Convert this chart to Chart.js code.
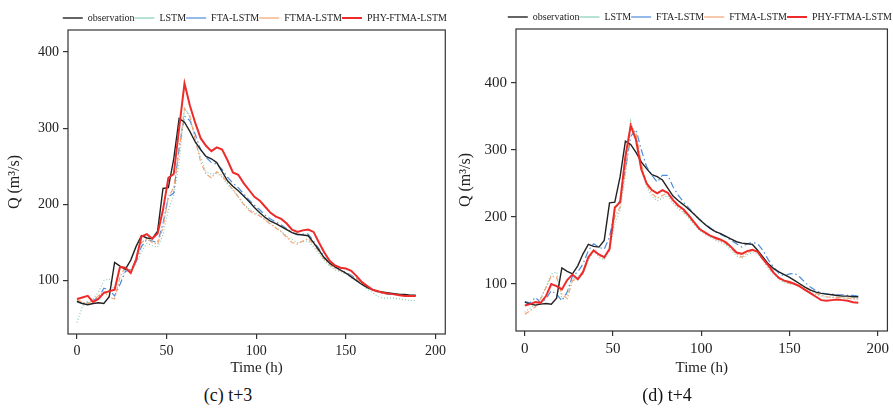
<!DOCTYPE html>
<html>
<head>
<meta charset="utf-8">
<script src="https://cdn.jsdelivr.net/npm/chart.js@4.4.0/dist/chart.umd.min.js"></script>
<style>
  body { margin: 0; width: 893px; height: 410px; background: #fff; position: relative; overflow: hidden; font-family: "Liberation Serif", serif; }
  .panel { position: absolute; top: 0; height: 380px; }
  #left { left: 0; width: 450px; }
  #right { left: 447px; width: 446px; }
  .caption { position: absolute; top: 385px; width: 200px; text-align: center; font-size: 18px; color: #111; }
</style>
</head>
<body>
<div class="panel" id="left"><canvas id="chartLeft"></canvas></div>
<div class="panel" id="right"><canvas id="chartRight"></canvas></div>
<div class="caption" style="left:128px">(c) t+3</div>
<div class="caption" style="left:567px">(d) t+4</div>
<script>
// time axis (h), shared by every series
const hours = [
  0, 3, 6, 9, 12, 15, 18, 21,
  24, 27, 30, 33, 36, 39, 42, 45,
  48, 51, 54, 57, 60, 63, 66, 69,
  72, 75, 78, 81, 84, 87, 90, 93,
  96, 99, 102, 105, 108, 111, 114, 117,
  120, 123, 126, 129, 132, 135, 138, 141,
  144, 147, 150, 153, 156, 159, 162, 165,
  168, 171, 174, 177, 180, 183, 186, 189
];

const observation = [
  73, 70, 68.5, 70, 71, 70, 79, 124,
  119, 115, 127, 145, 159, 156, 155, 165,
  221, 222, 260, 313, 308, 296, 282, 272,
  263, 260, 255, 243, 231, 224, 218, 211,
  204, 196, 189, 183, 178, 175, 171, 167,
  163, 161, 160, 159, 150, 140, 130, 123,
  118, 114, 110, 105, 100, 95, 91, 88,
  86, 85, 84, 83, 82, 82, 81, 81
];

// (c) t+3
const lstm3 = [
  45, 66, 70, 76, 85, 100, 102, 86,
  97, 114, 112, 122, 138, 149, 146, 144,
  160, 193, 212, 255, 325, 318, 285, 262,
  243, 240, 241, 236, 226, 219, 210, 201,
  194, 190, 186, 180, 175, 170, 165, 158,
  154, 150, 151, 152, 144, 136, 126, 119,
  114, 112, 109, 104, 99, 95, 89, 84,
  79, 77, 77, 77, 76, 75, 74, 74
];
const fta3 = [
  72, 70, 72, 74, 78, 90, 88, 80,
  95, 112, 115, 125, 145, 154, 152, 150,
  175, 210, 215, 275, 316, 310, 292, 272,
  262, 255, 253, 246, 236, 228, 222, 214,
  206, 199, 193, 186, 181, 177, 173, 168,
  163, 160, 161, 161, 152, 142, 131, 123,
  118, 114, 111, 107, 103, 98, 93, 88,
  85, 83, 82, 82, 81, 81, 80, 80
];
const ftma3 = [
  75, 72, 70, 74, 80, 86, 78, 76,
  105, 118, 112, 128, 150, 155, 150, 148,
  170, 210, 222, 270, 326, 315, 285, 256,
  240, 235, 243, 238, 228, 220, 210, 200,
  192, 188, 185, 180, 174, 169, 164, 157,
  150, 148, 152, 155, 148, 138, 128, 121,
  116, 113, 110, 106, 102, 97, 92, 88,
  85, 83, 83, 83, 82, 81, 80, 80
];
const phy3 = [
  76, 78, 80, 72, 76, 84, 86, 88,
  118, 117, 110, 128, 158, 161, 155, 162,
  193, 235, 240, 300, 359, 330, 307, 287,
  277, 270, 275, 272, 258, 242, 239, 228,
  219, 210, 205, 197, 189, 184, 181, 175,
  167, 164, 166, 167, 164, 150, 137, 126,
  120, 117, 116, 113, 106, 98, 93, 88,
  86, 84, 83, 82, 81, 80, 80, 80
];

// (d) t+4
const lstm4 = [
  58, 64, 70, 80, 95, 115, 118, 78,
  85, 108, 110, 118, 135, 150, 140, 136,
  150, 190, 210, 262, 343, 318, 275, 245,
  230, 224, 228, 232, 220, 212, 206, 198,
  188, 180, 174, 170, 165, 162, 158, 150,
  142, 138, 143, 147, 145, 135, 123, 114,
  107, 102, 100, 99, 96, 92, 88, 84,
  82, 80, 80, 80, 80, 79, 78, 78
];
const fta4 = [
  74, 72, 80, 72, 78, 90, 85, 75,
  88, 112, 118, 130, 150, 160, 155, 152,
  170, 210, 225, 270, 320, 330, 300, 275,
  262, 252, 262, 262, 245, 232, 222, 213,
  204, 196, 190, 184, 178, 174, 170, 165,
  160, 155, 160, 162, 160, 150, 136, 125,
  116, 112, 115, 116, 110, 102, 95, 90,
  87, 85, 85, 84, 84, 83, 83, 82
];
const ftma4 = [
  55, 60, 66, 78, 95, 112, 110, 85,
  78, 105, 108, 115, 138, 150, 143, 138,
  152, 200, 215, 270, 335, 325, 280, 248,
  235, 228, 232, 236, 224, 215, 208, 200,
  190, 182, 176, 172, 167, 164, 160, 153,
  145, 140, 146, 150, 148, 137, 125, 116,
  109, 104, 101, 100, 98, 94, 90, 86,
  83, 81, 80, 80, 79, 79, 78, 78
];
const phy4 = [
  68, 70, 73, 72, 82, 100, 97, 92,
  106, 114, 107, 118, 140, 150, 144, 140,
  152, 214, 222, 290, 336, 315, 271, 250,
  240, 235, 240, 236, 225, 217, 211, 202,
  192, 182, 177, 172, 169, 166, 162, 155,
  147, 145, 149, 151, 148, 137, 128, 117,
  109, 105, 103, 100, 96, 91, 86, 81,
  76, 75, 76, 77, 76, 75, 73, 72
];

const seriesNames = ['observation', 'LSTM', 'FTA-LSTM', 'FTMA-LSTM', 'PHY-FTMA-LSTM'];
const xTicks = [0, 50, 100, 150, 200];
const yTicks = [100, 200, 300, 400];

// line look for each series (same order as seriesNames)
const lineStyles = [
  { color: '#222222', width: 1.4, dash: [], order: 1 },
  { color: '#86cdb9', width: 1.2, dash: [1, 2], order: 4 },
  { color: '#4c8ddb', width: 1.2, dash: [7, 3, 1.5, 3], order: 3 },
  { color: '#f3a474', width: 1.2, dash: [5, 2, 1.5, 2], order: 2 },
  { color: '#ee2b2b', width: 2, dash: [], order: 0 }
];

const FONT = '"Liberation Serif", "Times New Roman", serif';

// full frame around the plot area, and nudge the legend a bit lower
const frameBox = {
  id: 'frameBox',
  afterLayout(chart) {
    if (chart.legend) {
      chart.legend.top += 3;
      chart.legend.bottom += 3;
    }
  },
  afterDraw(chart) {
    const { ctx, chartArea: a } = chart;
    ctx.save();
    ctx.strokeStyle = '#333';
    ctx.lineWidth = 1.2;
    ctx.strokeRect(a.left, a.top, a.right - a.left, a.bottom - a.top);
    ctx.restore();
  }
};

function makeChart(canvasId, series, opt) {
  const datasets = series.map((values, i) => ({
    label: seriesNames[i],
    data: hours.map((h, k) => ({ x: h, y: values[k] })),
    borderColor: lineStyles[i].color,
    backgroundColor: lineStyles[i].color,
    borderWidth: lineStyles[i].width,
    borderDash: lineStyles[i].dash,
    order: lineStyles[i].order,
    pointRadius: 0,
    tension: 0,
    fill: false
  }));

  return new Chart(document.getElementById(canvasId), {
    type: 'line',
    data: { datasets },
    plugins: [frameBox],
    options: {
      responsive: true,
      maintainAspectRatio: false,
      animation: false,
      layout: { padding: { left: 0, right: opt.padRight, top: opt.padTop, bottom: 0 } },
      plugins: {
        tooltip: { enabled: false },
        legend: {
          position: 'top',
          align: 'end',
          labels: {
            usePointStyle: true,
            pointStyle: 'line',
            pointStyleWidth: 20,
            boxHeight: 10,
            padding: 0,
            color: '#222',
            font: { family: FONT, size: 10 },
            sort: (a, b) => a.datasetIndex - b.datasetIndex
          }
        }
      },
      scales: {
        x: {
          type: 'linear',
          min: -5,
          max: 205.5,
          afterBuildTicks: (s) => { s.ticks = xTicks.map(v => ({ value: v })); },
          afterFit: (s) => { s.height = opt.xHeight; },
          border: { display: false },
          grid: { drawOnChartArea: false, drawTicks: true, tickLength: 5, color: '#333', lineWidth: 1.2 },
          ticks: { color: '#222', font: { family: FONT, size: opt.tickSize }, padding: 4, maxRotation: 0 },
          title: { display: true, text: 'Time (h)', color: '#222', font: { family: FONT, size: 15 }, padding: { top: 0, bottom: 3 } }
        },
        y: {
          type: 'linear',
          min: 30,
          max: opt.yMax,
          afterBuildTicks: (s) => { s.ticks = yTicks.map(v => ({ value: v })); },
          afterFit: (s) => { s.width = opt.yWidth; },
          border: { display: false },
          grid: { drawOnChartArea: false, drawTicks: true, tickLength: 5, color: '#333', lineWidth: 1.2 },
          ticks: { color: '#222', font: { family: FONT, size: opt.tickSize }, padding: 4 },
          title: { display: true, text: 'Q (m³/s)', color: '#222', font: { family: FONT, size: 16 }, padding: { top: opt.yTitlePad, bottom: 0 } }
        }
      }
    }
  });
}

makeChart('chartLeft', [observation, lstm3, fta3, ftma3, phy3],
  { yMax: 429, padRight: 3, padTop: 10, xHeight: 46, yWidth: 68, tickSize: 14, yTitlePad: 5 });
makeChart('chartRight', [observation, lstm4, fta4, ftma4, phy4],
  { yMax: 480, padRight: 1, padTop: 9, xHeight: 49, yWidth: 69, tickSize: 15, yTitlePad: 9 });
</script>
</body>
</html>
